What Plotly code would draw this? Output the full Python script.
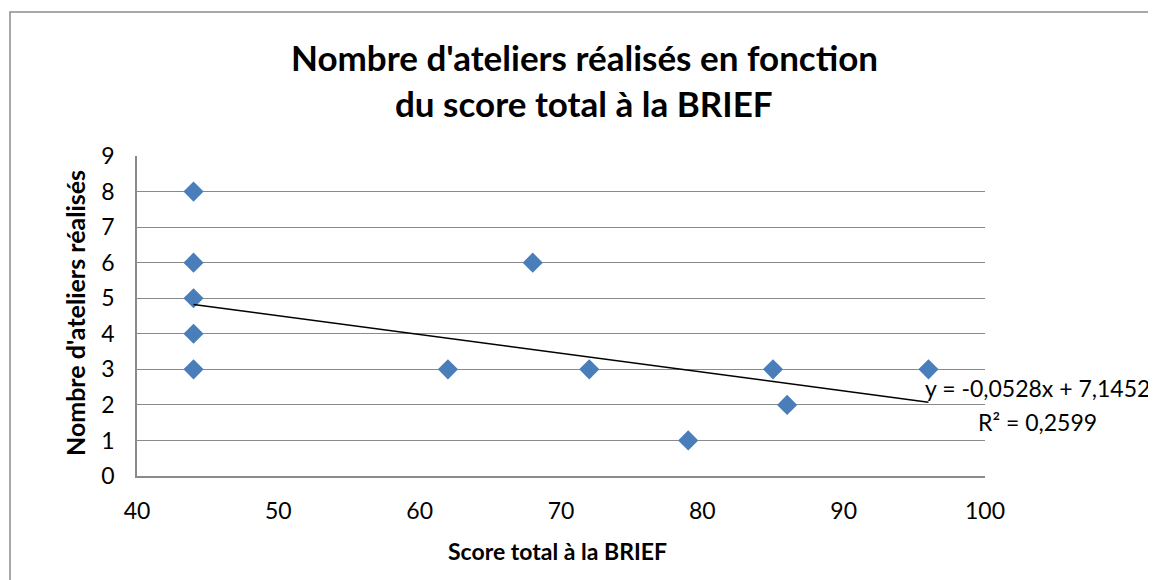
import plotly.graph_objects as go

# data
score_brief = [44, 44, 44, 44, 44, 62, 68, 72, 79, 85, 86, 96]
nb_ateliers = [8, 6, 5, 4, 3, 3, 6, 3, 1, 3, 2, 3]

# linear trendline as printed on the chart
slope = -0.0528
intercept = 7.1452
r2 = 0.2599

x_ticks = [40, 50, 60, 70, 80, 90, 100]
y_ticks = list(range(0, 10))

FONT = "Lato"
GRID = "#8a8a8a"

x_fit = [min(score_brief), max(score_brief)]
y_fit = [slope * v + intercept for v in x_fit]

fig = go.Figure()
fig.add_trace(go.Scatter(
    x=score_brief, y=nb_ateliers, mode="markers",
    marker=dict(symbol="diamond", size=15.5, color="#4a7ebb", line=dict(width=0)),
    showlegend=False,
))
fig.add_trace(go.Scatter(
    x=x_fit, y=y_fit, mode="lines",
    line=dict(color="black", width=1.5), showlegend=False,
))

# page body adds 8px, so the figure is 8px smaller and the margins shifted
fig.update_layout(
    width=1148, height=572,
    margin=dict(l=129, r=171, t=148, b=104),
    paper_bgcolor="white", plot_bgcolor="white",
    font=dict(family=FONT, color="black"),
    xaxis=dict(range=[40, 100], tickvals=x_ticks, showgrid=False, zeroline=False,
               showline=True, linecolor=GRID, linewidth=1.5,
               tickfont=dict(size=23), ticklabelstandoff=14),
    yaxis=dict(range=[0, 9], tickvals=y_ticks, showgrid=True, gridcolor=GRID, gridwidth=1.3,
               zeroline=False, showline=True, linecolor=GRID, linewidth=1.5,
               tickfont=dict(size=23), ticklabelstandoff=16),
)

# outer chart frame (cropped on right and bottom)
fig.add_shape(type="rect", xref="paper", yref="paper",
              x0=(10 - 137) / 848, x1=1.4, y0=-0.6, y1=(476 - 12) / 320,
              line=dict(color="#8c8c8c", width=1.5), layer="below")

# title lines
fig.add_annotation(text="<b>Nombre d'ateliers réalisés en fonction</b>",
                   xref="paper", yref="paper", x=(584 - 137) / 848, y=(476 - 57) / 320,
                   showarrow=False, font=dict(size=35), xanchor="center", yanchor="middle")
fig.add_annotation(text="<b>du score total à la BRIEF</b>",
                   xref="paper", yref="paper", x=(584 - 137) / 848, y=(476 - 103) / 320,
                   showarrow=False, font=dict(size=35), xanchor="center", yanchor="middle")

# axis titles
fig.add_annotation(text="<b>Score total à la BRIEF</b>",
                   xref="paper", yref="paper", x=(557 - 137) / 848, y=(476 - 551) / 320,
                   showarrow=False, font=dict(size=23), xanchor="center", yanchor="middle")
fig.add_annotation(text="<b>Nombre d'ateliers réalisés</b>", textangle=-90,
                   xref="paper", yref="paper", x=(75 - 137) / 848, y=(476 - 313) / 320,
                   showarrow=False, font=dict(size=25), xanchor="center", yanchor="middle")

# trendline equation
eq_x = (1037 - 137) / 848
fig.add_annotation(text=f"y = {slope:.4f}x + {intercept:.4f}".replace(".", ","),
                   xref="paper", yref="paper", x=eq_x, y=(476 - 388) / 320,
                   showarrow=False, font=dict(size=23), xanchor="center", yanchor="middle")
fig.add_annotation(text=f"R² = {r2:.4f}".replace(".", ","),
                   xref="paper", yref="paper", x=eq_x, y=(476 - 422) / 320,
                   showarrow=False, font=dict(size=23), xanchor="center", yanchor="middle")

fig.write_html("out.html")
